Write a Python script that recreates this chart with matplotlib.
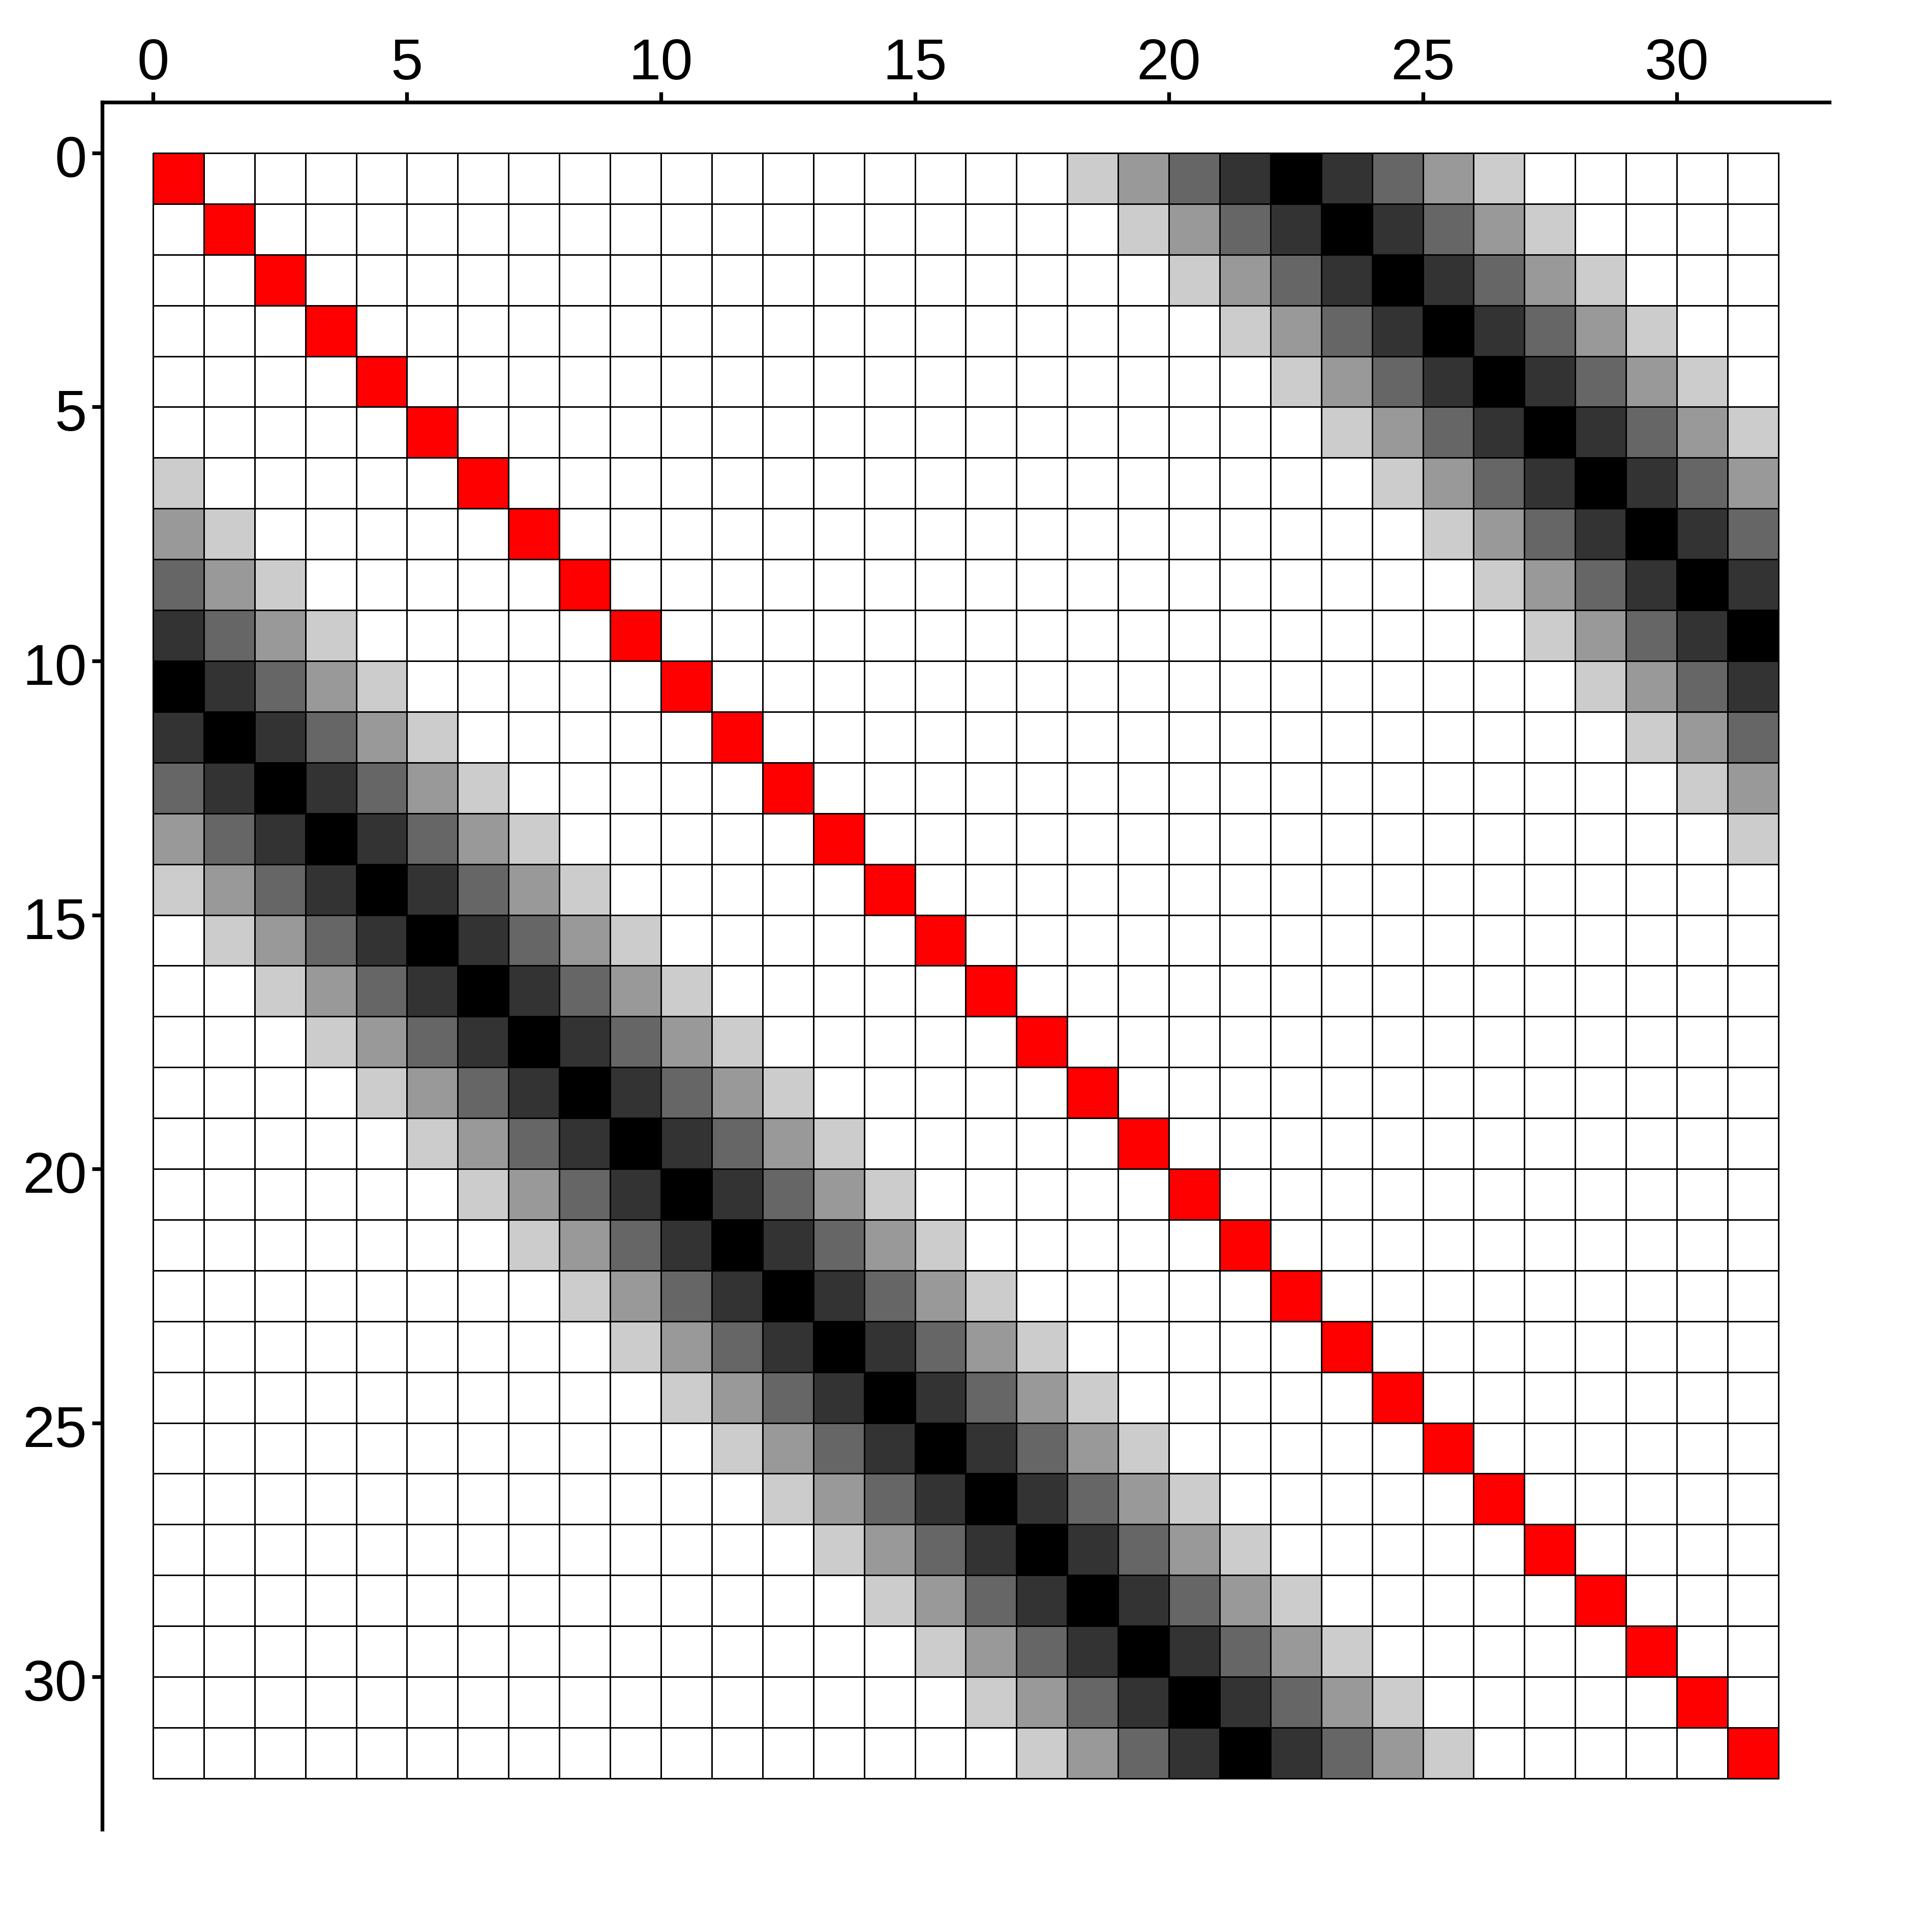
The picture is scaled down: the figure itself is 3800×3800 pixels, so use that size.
import matplotlib
matplotlib.use("Agg")
import matplotlib.pyplot as plt
from matplotlib.colors import ListedColormap
from matplotlib.transforms import ScaledTranslation
import numpy as np

plt.rcParams['font.family'] = ['Liberation Sans', 'DejaVu Sans']

# Cell codes: 0 white, 1..5 increasingly dark grey, R red (diagonal)
rows = [
    "R0000000" "00000000" "00123454" "32100000",
    "0R000000" "00000000" "00012345" "43210000",
    "00R00000" "00000000" "00001234" "54321000",
    "000R0000" "00000000" "00000123" "45432100",
    "0000R000" "00000000" "00000012" "34543210",
    "00000R00" "00000000" "00000001" "23454321",
    "100000R0" "00000000" "00000000" "12345432",
    "2100000R" "00000000" "00000000" "01234543",
    "32100000" "R0000000" "00000000" "00123454",
    "43210000" "0R000000" "00000000" "00012345",
    "54321000" "00R00000" "00000000" "00001234",
    "45432100" "000R0000" "00000000" "00000123",
    "34543210" "0000R000" "00000000" "00000012",
    "23454321" "00000R00" "00000000" "00000001",
    "12345432" "100000R0" "00000000" "00000000",
    "01234543" "2100000R" "00000000" "00000000",
    "00123454" "32100000" "R0000000" "00000000",
    "00012345" "43210000" "0R000000" "00000000",
    "00001234" "54321000" "00R00000" "00000000",
    "00000123" "45432100" "000R0000" "00000000",
    "00000012" "34543210" "0000R000" "00000000",
    "00000001" "23454321" "00000R00" "00000000",
    "00000000" "12345432" "100000R0" "00000000",
    "00000000" "01234543" "2100000R" "00000000",
    "00000000" "00123454" "32100000" "R0000000",
    "00000000" "00012345" "43210000" "0R000000",
    "00000000" "00001234" "54321000" "00R00000",
    "00000000" "00000123" "45432100" "000R0000",
    "00000000" "00000012" "34543210" "0000R000",
    "00000000" "00000001" "23454321" "00000R00",
    "00000000" "00000000" "12345432" "100000R0",
    "00000000" "00000000" "01234543" "2100000R",
]
code_values = {"0": 0, "1": 1, "2": 2, "3": 3, "4": 4, "5": 5, "R": 6}
level_colors = ["#ffffff", "#cccccc", "#999999", "#666666", "#333333", "#000000", "#ff0000"]
tick_values = [0, 5, 10, 15, 20, 25, 30]

C = np.array([[code_values[ch] for ch in r] for r in rows])
n = C.shape[0]

fig = plt.figure(figsize=(38, 38), dpi=100)
ax = fig.add_axes([0.0529, 0.0532, 0.8939, 0.8939])
cmap = ListedColormap(level_colors)
edges = np.arange(n + 1)
ax.pcolormesh(edges, edges, C, cmap=cmap, vmin=-0.5, vmax=6.5,
              edgecolors='black', linewidth=2.1)

ax.set_xlim(-1, n + 1)
ax.set_ylim(n + 1, -1)
ax.set_aspect('auto')

for s in ['right', 'bottom']:
    ax.spines[s].set_visible(False)
for s in ['top', 'left']:
    ax.spines[s].set_linewidth(5.3)
    ax.spines[s].set_color('black')
    ax.spines[s].set_capstyle('projecting')

ax.xaxis.tick_top()
ax.set_xticks(tick_values)
ax.set_yticks(tick_values)
ax.tick_params(axis='both', direction='out', length=14.5, width=5.3,
               labelsize=82, color='black', labelcolor='black')
ax.tick_params(axis='x', pad=0.5)
ax.tick_params(axis='y', pad=7)

offset = ScaledTranslation(0, -6 / 100, fig.dpi_scale_trans)
for lab in ax.get_yticklabels():
    lab.set_transform(lab.get_transform() + offset)

fig.savefig("out.png", dpi=100, facecolor='white')
